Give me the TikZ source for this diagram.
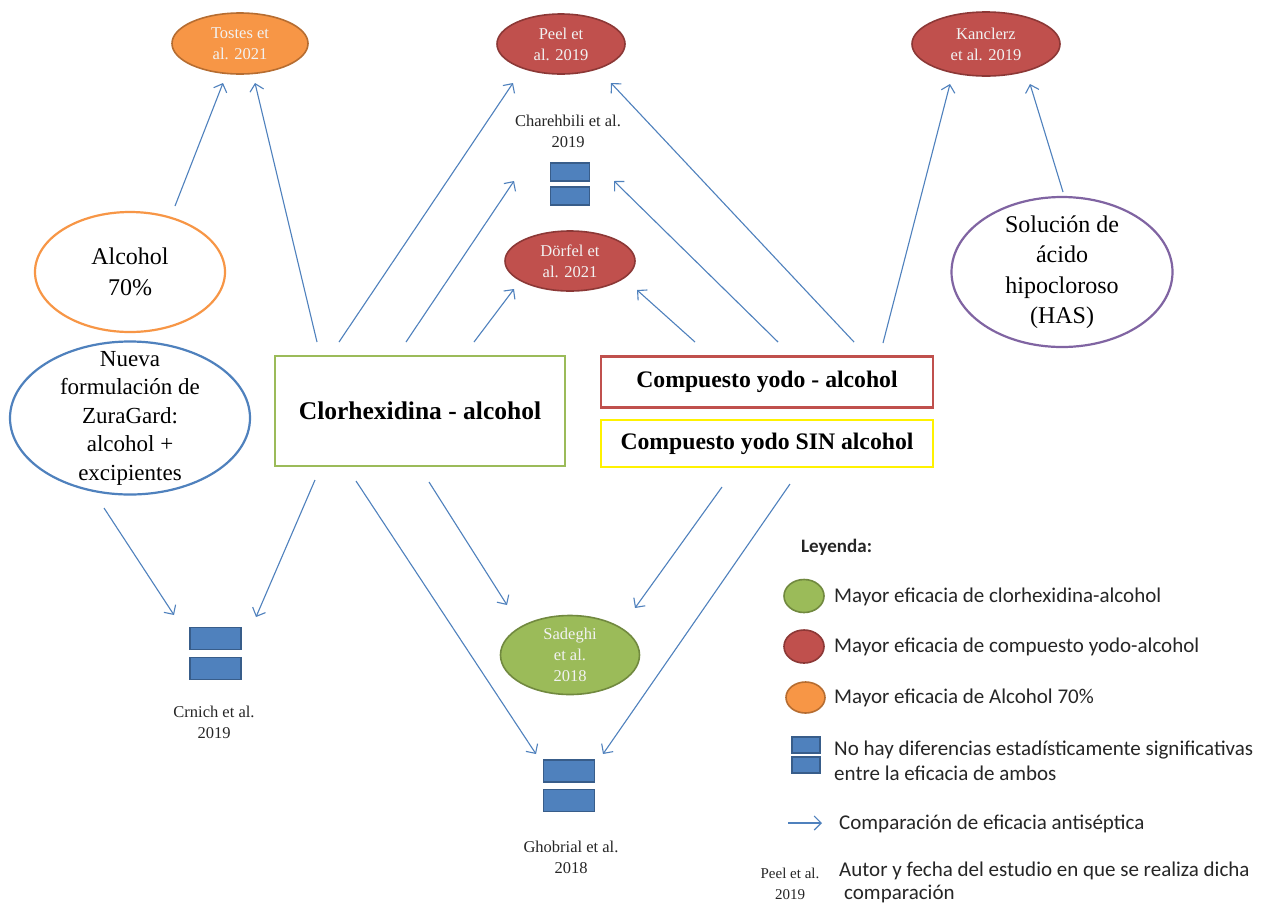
\documentclass[tikz,border=0pt]{standalone}
\usepackage{fontspec}
\setmainfont{Liberation Serif}
\newfontfamily\legendfont{Carlito}
\usetikzlibrary{shapes.geometric,arrows.meta,positioning}
\definecolor{arrowblue}{HTML}{4F81BD}
\definecolor{sqdraw}{HTML}{385D8A}
\definecolor{redfill}{HTML}{C0504D}
\definecolor{reddraw}{HTML}{8C3836}
\definecolor{orangefill}{HTML}{F79646}
\definecolor{orangedraw}{HTML}{B66D31}
\definecolor{greenfill}{HTML}{9BBB59}
\definecolor{greendraw}{HTML}{71893F}
\definecolor{purpledraw}{HTML}{8064A2}
\tikzset{
        oval/.style={ellipse, inner sep=-80pt, align=center},
        study/.style={oval, text=white!95!black, line width=1.6pt, font=\fontsize{16.5}{21}\selectfont},
        redstudy/.style={study, draw=reddraw, fill=redfill},
        orangestudy/.style={study, draw=orangedraw, fill=orangefill},
        greenstudy/.style={study, draw=greendraw, fill=greenfill},
        product/.style={oval, fill=white, line width=2.2pt, font=\fontsize{24}{30.5}\selectfont},
        mainbox/.style={rectangle, inner sep=0pt, line width=2.4pt, font=\bfseries\fontsize{23.7}{28}\selectfont},
        eqhalf/.style={rectangle, fill=arrowblue, draw=sqdraw, line width=1.2pt, minimum width=51pt, minimum height=22pt, inner sep=0pt},
        cite/.style={align=center, inner sep=0pt, font=\fontsize{16.5}{21}\selectfont, text=black!85},
        arr/.style={-{Straight Barb[length=7pt,width=14pt]}, draw=arrowblue, line width=1.1pt},
        legtext/.style={anchor=west, inner sep=0pt, font=\legendfont\fontsize{21}{25}\selectfont, text=black!85}
          }
\begin{document}
\begin{tikzpicture}[x=1pt, y=-1pt]
  \useasboundingbox[fill=white] (0,0) rectangle (1267,906);
  % studies on top
  \node[orangestudy, minimum width=136pt, minimum height=61pt] (tostes) at (240,43.5) {Tostes et\\al. 2021};
  \node[redstudy, minimum width=128pt, minimum height=60pt] (peel) at (561,44) {Peel et\\al. 2019};
  \node[redstudy, minimum width=148pt, minimum height=64pt] (kanclerz) at (986,44) {Kanclerz\\et al. 2019};
  \node[cite] (charehbili) at (568,131) {Charehbili et al.\\2019};
  \node[eqhalf, minimum width=39pt, minimum height=18pt] (charehbiliA) at (570,172) {};
  \node[eqhalf, minimum width=39pt, minimum height=18pt] (charehbiliB) at (570,196) {};
  \node[redstudy, minimum width=130pt, minimum height=60pt] (dorfel) at (570,261) {Dörfel et\\al. 2021};
  % antiseptics
  \node[product, draw=orangefill, minimum width=190pt, minimum height=120pt] (alcohol) at (130,272) {Alcohol\\70\%};
  \node[product, draw=purpledraw, minimum width=221pt, minimum height=150pt] (has) at (1062,272) {Solución de\\ácido\\hipocloroso\\(HAS)};
  \node[product, draw=arrowblue, minimum width=240pt, minimum height=153pt, font=\fontsize{23}{28.5}\selectfont] (zuragard) at (130,418) {Nueva\\formulación de\\ZuraGard:\\alcohol +\\excipientes};
  \node[mainbox, draw=greenfill, minimum width=290pt, minimum height=110pt, font=\bfseries\fontsize{25.5}{30}\selectfont] (chx) at (420,411) {Clorhexidina - alcohol};
  \node[mainbox, draw=redfill, minimum width=332pt, minimum height=51pt] (pvia) at (767,382) {Compuesto yodo - alcohol};
  \node[mainbox, draw=yellow, minimum width=332pt, minimum height=47pt] (pvi) at (767,443.5) {Compuesto yodo SIN alcohol};
  % studies below
  \node[eqhalf] (crnichA) at (215.5,638.5) {};
  \node[eqhalf] (crnichB) at (215.5,668.5) {};
  \node[cite] (crnich) at (214,722) {Crnich et al.\\2019};
  \node[greenstudy, minimum width=139pt, minimum height=79pt] (sadeghi) at (570,655) {Sadeghi\\et al.\\2018};
  \node[eqhalf] (ghobrialA) at (569,771) {};
  \node[eqhalf] (ghobrialB) at (569,800.5) {};
  \node[cite] (ghobrial) at (571,857) {Ghobrial et al.\\2018};
  % comparisons
  \draw[arr] ([shift={(45,-66)}]alcohol.center) -- ([shift={(-17,39.5)}]tostes.center);
  \draw[arr] ([shift={(-103,-69)}]chx.center) -- ([shift={(15,39.5)}]tostes.center);
  \draw[arr] ([shift={(-81,-69)}]chx.center) -- ([shift={(-48,39)}]peel.center);
  \draw[arr] ([shift={(-14,-69)}]chx.center) -- ([shift={(-56,9)}]charehbiliA.center);
  \draw[arr] ([shift={(54,-69)}]chx.center) -- ([shift={(-56,28)}]dorfel.center);
  \draw[arr] ([shift={(-72,-40)}]pvia.center) -- ([shift={(67,29)}]dorfel.center);
  \draw[arr] ([shift={(11,-40)}]pvia.center) -- ([shift={(44,9)}]charehbiliA.center);
  \draw[arr] ([shift={(87,-40)}]pvia.center) -- ([shift={(50,39)}]peel.center);
  \draw[arr] ([shift={(116,-39)}]pvia.center) -- ([shift={(-36,40)}]kanclerz.center);
  \draw[arr] ([shift={(1,-80)}]has.center) -- ([shift={(44,40)}]kanclerz.center);
  \draw[arr] ([shift={(-26,90)}]zuragard.center) -- ([shift={(-41.5,-23.5)}]crnichA.center);
  \draw[arr] ([shift={(-105,69)}]chx.center) -- ([shift={(40.5,-21.5)}]crnichA.center);
  \draw[arr] ([shift={(-64,70)}]chx.center) -- ([shift={(-33,-17)}]ghobrialA.center);
  \draw[arr] ([shift={(9,71)}]chx.center) -- ([shift={(-63,-50)}]sadeghi.center);
  \draw[arr] ([shift={(-45,43.5)}]pvi.center) -- ([shift={(65,-47)}]sadeghi.center);
  \draw[arr] ([shift={(23,40.5)}]pvi.center) -- ([shift={(34,-17)}]ghobrialA.center);
  % legend
  \node[anchor=west, inner sep=0pt, font=\legendfont\bfseries\fontsize{19}{22}\selectfont, text=black!85] (legend) at (801,547) {Leyenda:};
  \node[greenstudy, minimum width=40pt, minimum height=33pt] (keyA) at (804,596) {};
  \node[legtext] (keyAtxt) at (834,597) {Mayor eficacia de clorhexidina-alcohol};
  \node[redstudy, minimum width=40pt, minimum height=33pt] (keyB) at (804,646.5) {};
  \node[legtext] (keyBtxt) at (834,647) {Mayor eficacia de compuesto yodo-alcohol};
  \node[orangestudy, minimum width=39pt, minimum height=31pt] (keyC) at (805.5,697.5) {};
  \node[legtext] (keyCtxt) at (834,698) {Mayor eficacia de Alcohol 70\%};
  \node[eqhalf, minimum width=28pt, minimum height=16pt] (keyDa) at (806,745) {};
  \node[eqhalf, minimum width=28pt, minimum height=16pt] (keyDb) at (806,765) {};
  \node[legtext, align=left] (keyDtxt) at (834,760.5) {No hay diferencias estadísticamente significativas\\entre la eficacia de ambos};
  \coordinate (keyEa) at (788,823);
  \coordinate (keyEb) at (822,823);
  \draw[arr] (keyEa) -- (keyEb);
  \node[legtext] (keyEtxt) at (839,824) {Comparación de eficacia antiséptica};
  \node[cite, font=\fontsize{15}{21}\selectfont] (keyF) at (790,884) {Peel et al.\\2019};
  \node[legtext, align=left, font=\legendfont\fontsize{21}{23}\selectfont] (keyFtxt) at (839,882) {Autor y fecha del estudio en que se realiza dicha\\\hspace{5pt}comparación};
\end{tikzpicture}
\end{document}
